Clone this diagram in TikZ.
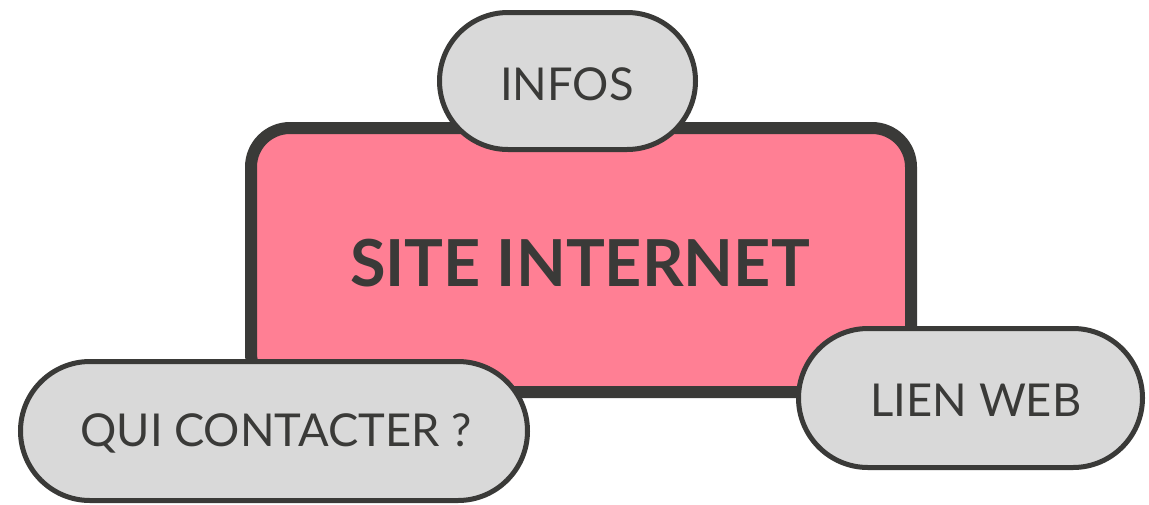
\documentclass[tikz,border=0pt]{standalone}
\usepackage{fontspec}
\setmainfont{Lato}
\definecolor{pinkfill}{HTML}{FF7F94}
\definecolor{darkline}{HTML}{3A3A38}
\definecolor{pillfill}{HTML}{D9D9D9}
\begin{document}
\begin{tikzpicture}[x=1pt,y=-1pt,
  mainbox/.style={draw=darkline, fill=pinkfill, line width=12pt, rounded corners=39pt},
  pill/.style={draw=darkline, fill=pillfill, line width=5pt},
  pilltext/.style={text=darkline, font=\fontsize{45.3}{50}\selectfont},
  maintext/.style={text=darkline, font=\fontsize{64.8}{70}\selectfont\bfseries}]
\useasboundingbox (0,0) rectangle (1149,504);
% main box
\draw[mainbox] (251,128) rectangle (911,392);
\node[maintext] (site) at (580,263) {SITE INTERNET};
% INFOS pill
\draw[pill, rounded corners=68.5pt] (439.5,12.5) rectangle (695.5,149.5);
\node[pilltext] (infos) at (567,84) {INFOS};
% QUI CONTACTER pill
\draw[pill, rounded corners=69.5pt] (20.5,361.5) rectangle (527.5,500.5);
\node[pilltext] (qui) at (276,433) {QUI CONTACTER ?};
% LIEN WEB pill
\draw[pill, rounded corners=69.5pt] (798.5,328.5) rectangle (1142.5,467.5);
\node[pilltext] (lien) at (976,400) {LIEN WEB};
\end{tikzpicture}
\end{document}
